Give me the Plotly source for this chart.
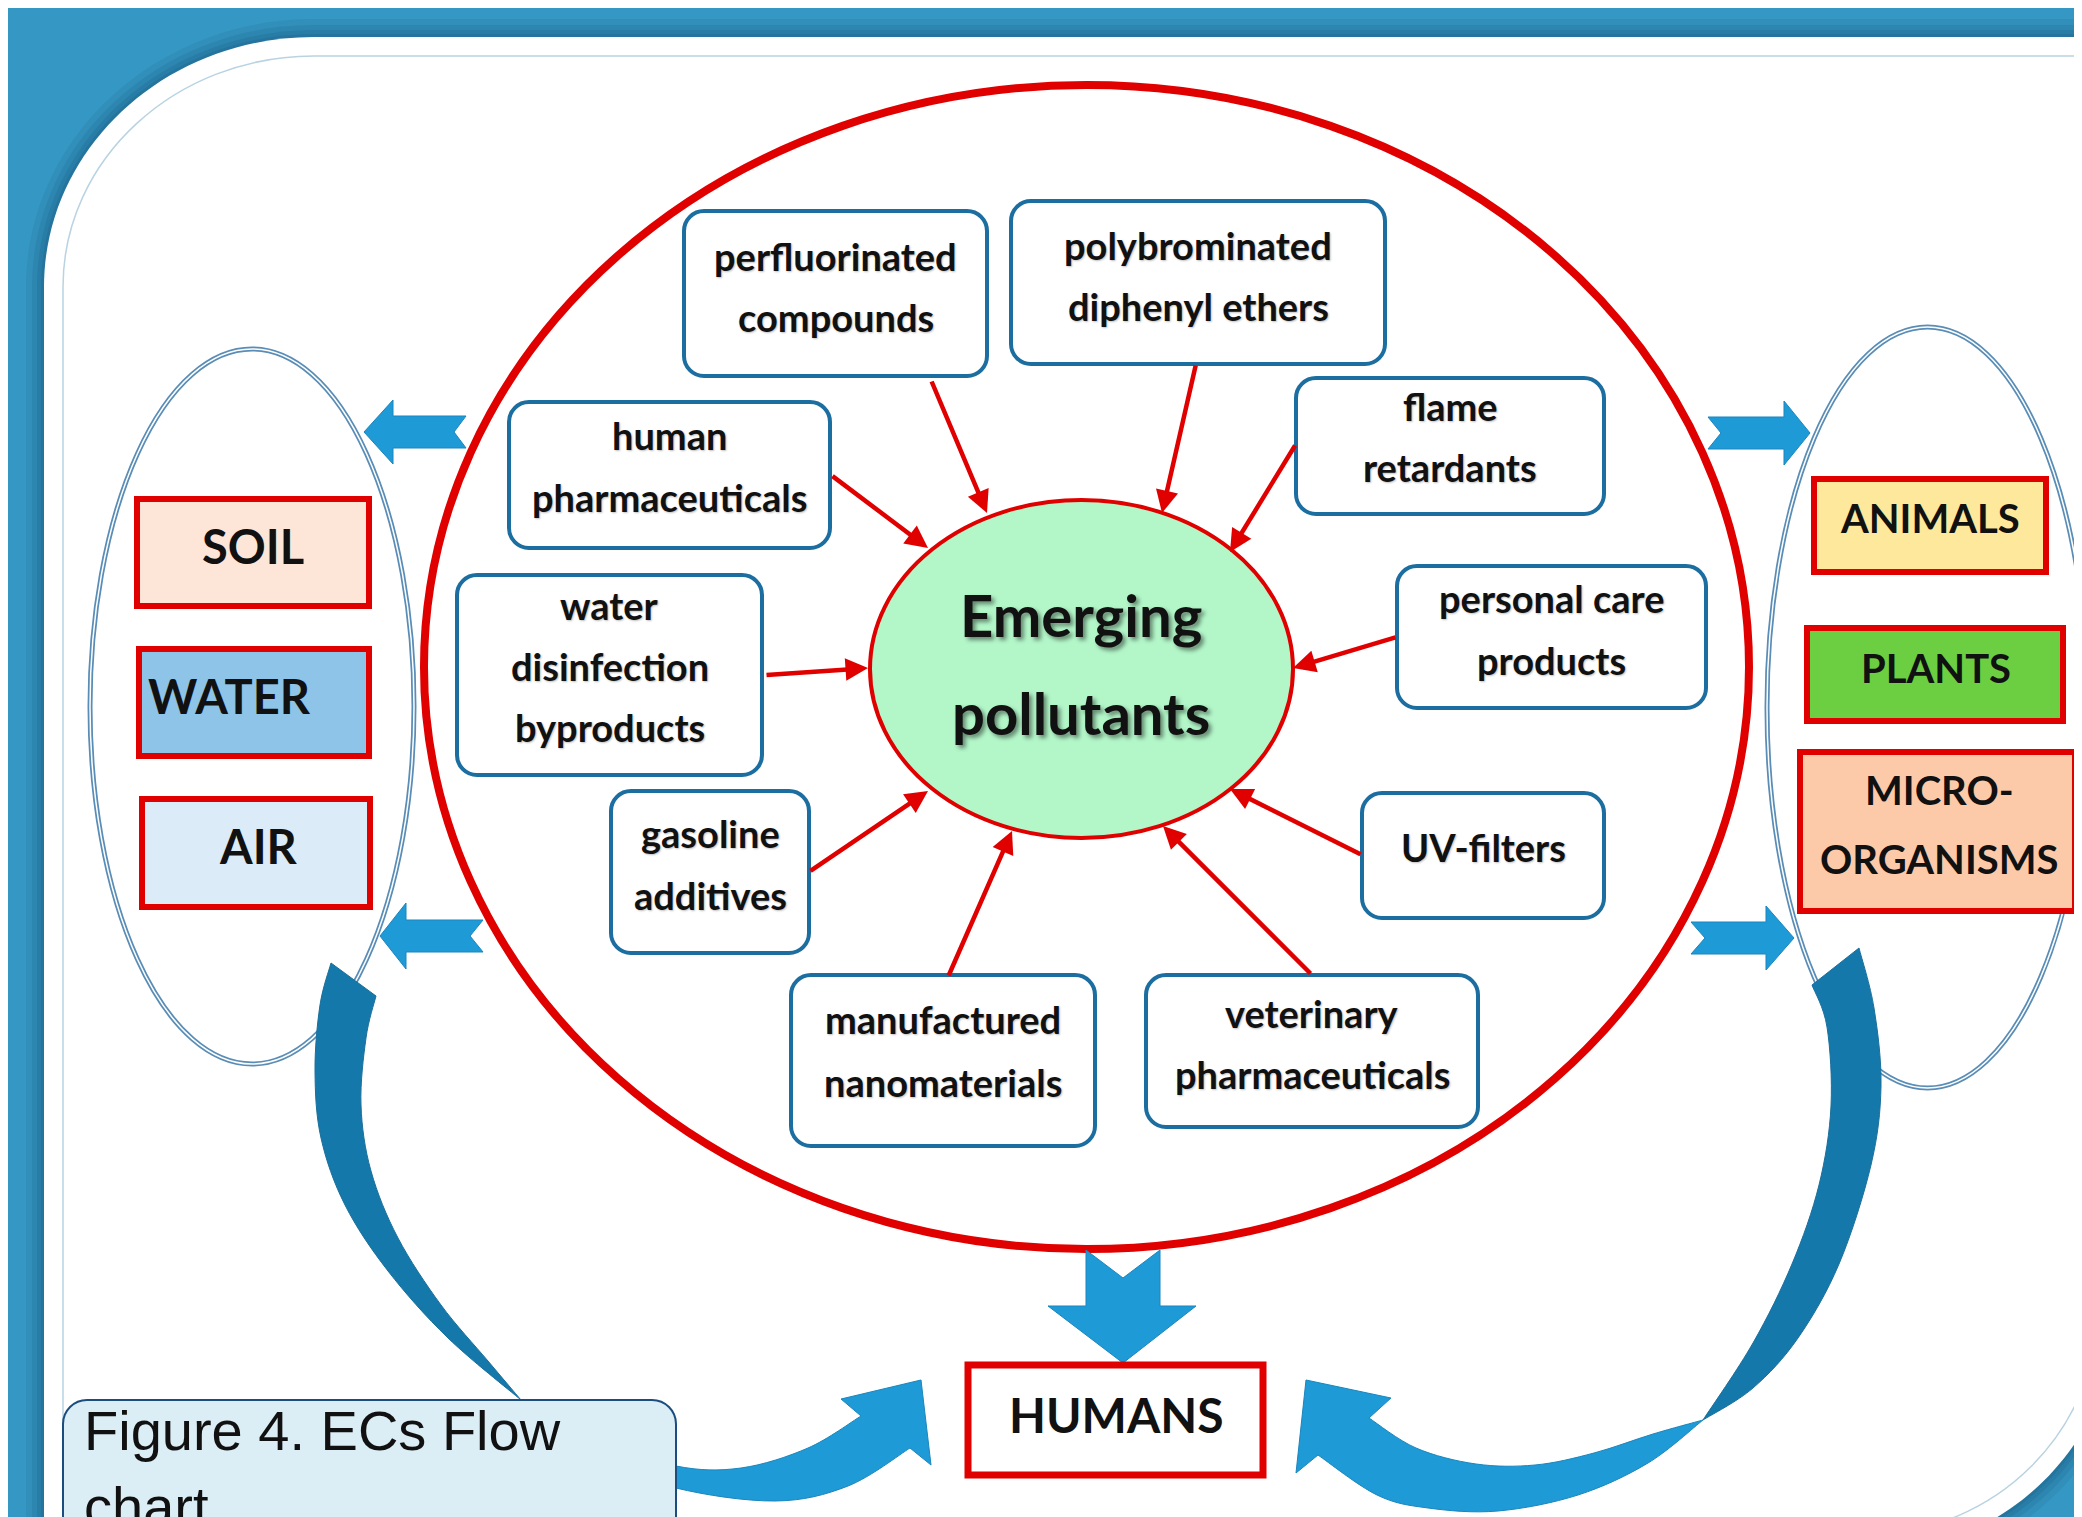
import plotly.graph_objects as go

W, H = 2082, 1517

# ---------------- data: labels ----------------
center_label = ["Emerging", "pollutants"]
source_labels = [
    ["perfluorinated", "compounds"],
    ["polybrominated", "diphenyl ethers"],
    ["human", "pharmaceuticals"],
    ["flame", "retardants"],
    ["water", "disinfection", "byproducts"],
    ["personal care", "products"],
    ["gasoline", "additives"],
    ["UV-filters"],
    ["manufactured", "nanomaterials"],
    ["veterinary", "pharmaceuticals"],
]
env_labels = ["SOIL", "WATER", "AIR"]
biota_labels = [["ANIMALS"], ["PLANTS"], ["MICRO-", "ORGANISMS"]]
target_label = "HUMANS"
caption_lines = ["Figure 4. ECs Flow", "chart."]

# ---------------- geometry (axis units = pixels) ----------------
source_boxes = [
    (676, 203, 979, 368), (1003, 193, 1377, 356), (501, 394, 822, 540),
    (1288, 370, 1596, 506), (449, 567, 754, 767), (1389, 558, 1698, 700),
    (603, 783, 801, 945), (1354, 785, 1596, 910), (783, 967, 1087, 1138),
    (1138, 967, 1470, 1119),
]
source_line_y = [
    [253, 314], [242, 303], [432, 494], [403, 464], [602, 663, 724],
    [595, 657], [830, 892], [844], [1016, 1079], [1010, 1071],
]
arrow_tails = [(923, 372), (1188, 356), (823, 467), (1288, 436), (757, 667),
               (1389, 629), (801, 864), (1354, 847), (940, 969), (1304, 967)]
arrow_tips = [(979, 505), (1154, 505), (920, 540), (1222, 544), (860, 660),
              (1285, 660), (920, 783), (1222, 781), (1004, 823), (1155, 818)]

env_boxes = [(129, 491, 361, 598), (131, 641, 361, 748), (134, 791, 362, 899)]
env_text_xy = [(245, 545), (221, 695), (250, 845)]
env_fills = ["#fde6d8", "#8dc4e7", "#dbebf7"]

biota_boxes = [(1806, 471, 2038, 564), (1799, 620, 2055, 713), (1792, 744, 2067, 903)]
biota_text_x = [1922, 1928, 1931]
biota_line_y = [[516], [666], [788, 857]]
biota_fills = ["#fde89b", "#6ccf41", "#fdcaa9"]

FONT_B = "Lato, Carlito, Calibri, sans-serif"
FONT_CAP = "Liberation Sans, Arial, sans-serif"
RED = "#e00000"
BLUE_BOX = "#1c6ea0"
ARROW_LIGHT = "#1e9bd7"
ARROW_DARK = "#1479aa"

shapes = []
annotations = []
K = 0.5523


def fmt(p):
    return f"{p[0]:.1f},{p[1]:.1f}"


def add_path(d, fill, line_color="rgba(0,0,0,0)", line_width=0, opacity=1.0):
    shapes.append(dict(type="path", path=d, xref="x", yref="y", fillcolor=fill,
                       line=dict(color=line_color, width=line_width), opacity=opacity,
                       layer="above"))


def rrect(x0, y0, x1, y1, r):
    k = r * (1 - K)
    return (f"M{x0+r},{y0} L{x1-r},{y0} C{x1-k},{y0} {x1},{y0+k} {x1},{y0+r} "
            f"L{x1},{y1-r} C{x1},{y1-k} {x1-k},{y1} {x1-r},{y1} "
            f"L{x0+r},{y1} C{x0+k},{y1} {x0},{y1-k} {x0},{y1-r} "
            f"L{x0},{y0+r} C{x0},{y0+k} {x0+k},{y0} {x0+r},{y0} Z")


def panel(x0, y0, x1, y1, rx, ry, rb):
    return (f"M{x0},{y0+ry} C{x0},{y0+ry*(1-K)} {x0+rx*(1-K)},{y0} {x0+rx},{y0} "
            f"L{x1},{y0} L{x1},{y1-rb} C{x1},{y1-rb*(1-K)} {x1-rb*(1-K)},{y1} {x1-rb},{y1} "
            f"L{x0},{y1} Z")


def smooth(pts):
    out = ""
    n = len(pts)
    for i in range(n - 1):
        p0 = pts[i - 1] if i > 0 else pts[i]
        p1 = pts[i]
        p2 = pts[i + 1]
        p3 = pts[i + 2] if i + 2 < n else pts[i + 1]
        c1 = (p1[0] + (p2[0] - p0[0]) / 6, p1[1] + (p2[1] - p0[1]) / 6)
        c2 = (p2[0] - (p3[0] - p1[0]) / 6, p2[1] - (p3[1] - p1[1]) / 6)
        out += f" C{fmt(c1)} {fmt(c2)} {fmt(p2)}"
    return out


def poly(pts):
    return "M" + " L".join(fmt(p) for p in pts) + " Z"


# ---------------- background panel ----------------
for d, op in [(18, 0.10), (12, 0.12), (7, 0.14), (3, 0.16)]:
    add_path(panel(36 - d, 29 - d, 2110 + d, 1545 + d, 270 + d, 250 + d, 250 + d),
             "#114a6e", opacity=op)
add_path(panel(36, 29, 2110, 1545, 270, 250, 250), "#ffffff")
add_path(panel(55, 48, 2091, 1526, 251, 231, 231), "rgba(0,0,0,0)", "#b9d3e2", 1.5)

# ---------------- big red ellipse ----------------
shapes.append(dict(type="circle", xref="x", yref="y", x0=416, x1=1741, y0=77, y1=1241,
                   line=dict(color=RED, width=8), fillcolor="rgba(0,0,0,0)"))

# ---------------- side ovals (double line) ----------------
for (x0, y0, x1, y1) in [(82, 341, 406, 1056), (1759, 319, 2080, 1080)]:
    shapes.append(dict(type="circle", xref="x", yref="y", x0=x0, x1=x1, y0=y0, y1=y1,
                       line=dict(color="#5a8db6", width=5), fillcolor="rgba(0,0,0,0)"))
    shapes.append(dict(type="circle", xref="x", yref="y", x0=x0, x1=x1, y0=y0, y1=y1,
                       line=dict(color="#ffffff", width=1.5), fillcolor="rgba(0,0,0,0)"))

# ---------------- block arrows ----------------
block_arrows = [
    [(356, 424), (385, 392), (385, 408), (458, 408), (446, 424), (458, 440), (385, 440), (385, 456)],
    [(372, 928), (398, 895), (398, 912), (475, 912), (462, 928), (475, 944), (398, 944), (398, 961)],
    [(1700, 409), (1776, 409), (1776, 393), (1802, 425), (1776, 457), (1776, 441), (1700, 441), (1713, 425)],
    [(1683, 914), (1758, 914), (1758, 898), (1786, 930), (1758, 962), (1758, 946), (1683, 946), (1697, 930)],
    [(1078, 1242), (1115, 1270), (1152, 1242), (1152, 1298), (1188, 1298), (1115, 1355), (1040, 1298), (1078, 1298)],
]
for pts in block_arrows:
    add_path(poly(pts), ARROW_LIGHT, "#1a85bd", 1)

# ---------------- curved arrows ----------------
r_dark_outer = [(1851, 940), (1866, 1000), (1873, 1078), (1863, 1157), (1831, 1256),
                (1790, 1330), (1745, 1380), (1695, 1412)]
r_dark_inner = [(1695, 1412), (1745, 1335), (1784, 1256), (1811, 1177), (1823, 1098),
                (1819, 1019), (1804, 977)]
add_path("M" + fmt(r_dark_outer[0]) + smooth(r_dark_outer) + smooth(r_dark_inner) + " Z",
         ARROW_DARK, "#1a6f9c", 1)
r_light_lower = [(1695, 1412), (1640, 1455), (1570, 1487), (1490, 1503), (1420, 1500),
                 (1369, 1487), (1310, 1447)]
r_head = [(1288, 1465), (1298, 1372), (1383, 1390), (1361, 1410)]
r_light_upper = [(1361, 1410), (1408, 1440), (1468, 1456), (1527, 1457), (1586, 1445),
                 (1645, 1426), (1695, 1412)]
add_path("M" + fmt(r_light_lower[0]) + smooth(r_light_lower)
         + "".join(" L" + fmt(p) for p in r_head) + smooth(r_light_upper) + " Z",
         ARROW_LIGHT, "#1a85bd", 1)

l_dark_outer = [(323, 955), (312, 997), (307, 1063), (313, 1130), (337, 1197),
                (380, 1263), (440, 1330), (513, 1392)]
l_dark_inner = [(513, 1392), (480, 1353), (433, 1297), (390, 1230), (363, 1163),
                (353, 1097), (358, 1030), (368, 988)]
add_path("M" + fmt(l_dark_outer[0]) + smooth(l_dark_outer) + smooth(l_dark_inner) + " Z",
         ARROW_DARK, "#1a6f9c", 1)
l_light_lower = [(513, 1392), (590, 1450), (668, 1480), (767, 1493), (840, 1478), (902, 1440)]
l_head = [(923, 1457), (913, 1372), (833, 1391), (853, 1408)]
l_light_upper = [(853, 1408), (800, 1440), (733, 1460), (668, 1458), (590, 1432), (513, 1392)]
add_path("M" + fmt(l_light_lower[0]) + smooth(l_light_lower)
         + "".join(" L" + fmt(p) for p in l_head) + smooth(l_light_upper) + " Z",
         ARROW_LIGHT, "#1a85bd", 1)

# ---------------- caption box ----------------
add_path(rrect(55, 1392, 668, 1580, 24), "#dbedf5", "#1b4d7e", 2)

# ---------------- source boxes ----------------
for (x0, y0, x1, y1) in source_boxes:
    add_path(rrect(x0, y0, x1, y1, 20), "#ffffff", BLUE_BOX, 4)

# ---------------- environment / biota boxes ----------------
for (x0, y0, x1, y1), fc in zip(env_boxes, env_fills):
    shapes.append(dict(type="rect", xref="x", yref="y", x0=x0, x1=x1, y0=y0, y1=y1,
                       fillcolor=fc, line=dict(color=RED, width=6)))
for (x0, y0, x1, y1), fc in zip(biota_boxes, biota_fills):
    shapes.append(dict(type="rect", xref="x", yref="y", x0=x0, x1=x1, y0=y0, y1=y1,
                       fillcolor=fc, line=dict(color=RED, width=6)))
shapes.append(dict(type="rect", xref="x", yref="y", x0=960, x1=1255, y0=1357, y1=1467,
                   fillcolor="#ffffff", line=dict(color=RED, width=7)))

# ---------------- center ellipse ----------------
shapes.append(dict(type="circle", xref="x", yref="y", x0=862, x1=1285, y0=492, y1=830,
                   fillcolor="#b3f7c9", line=dict(color=RED, width=4)))


# ---------------- texts ----------------
def text(x, y, s, size, bold=True, xanchor="center", shadow="none", family=FONT_B):
    annotations.append(dict(x=x, y=y - 0.14 * size, xref="x", yref="y",
                            text=f"<b>{s}</b>" if bold else s,
                            showarrow=False, xanchor=xanchor, yanchor="middle",
                            font=dict(family=family, size=size, color="#111111", shadow=shadow)))


for lines, (x0, y0, x1, y1), ys in zip(source_labels, source_boxes, source_line_y):
    for s, yy in zip(lines, ys):
        text((x0 + x1) / 2, yy, s, 38, shadow="1px 1px 2px rgba(0,0,0,0.25)")

for s, yy in zip(center_label, [615, 713]):
    text(1073, yy, s, 58, shadow="3px 3px 4px rgba(0,0,0,0.45)")

for s, (x, y) in zip(env_labels, env_text_xy):
    text(x, y, s, 47)
for lines, x, ys in zip(biota_labels, biota_text_x, biota_line_y):
    for s, yy in zip(lines, ys):
        text(x, yy, s, 40)
text(1108, 1413, target_label, 48)

for s, yy in zip(caption_lines, [1430, 1506]):
    text(74, yy, s, 56, bold=False, xanchor="left", family=FONT_CAP)

# ---------------- red arrows ----------------
for (tx, ty), (hx, hy) in zip(arrow_tails, arrow_tips):
    annotations.append(dict(x=hx, y=hy, ax=tx, ay=ty, xref="x", yref="y", axref="x", ayref="y",
                            text="", showarrow=True, arrowhead=2, arrowsize=1.0,
                            arrowwidth=4.5, arrowcolor=RED, standoff=0, startstandoff=0))

fig = go.Figure()
fig.update_layout(
    width=W, height=H, margin=dict(l=0, r=0, t=0, b=0, pad=0),
    paper_bgcolor="#3597c3", plot_bgcolor="#3597c3",
    xaxis=dict(range=[0, W], visible=False, fixedrange=True),
    yaxis=dict(range=[H, 0], visible=False, fixedrange=True),
    shapes=shapes, annotations=annotations, showlegend=False,
)
fig.write_html("out.html")
